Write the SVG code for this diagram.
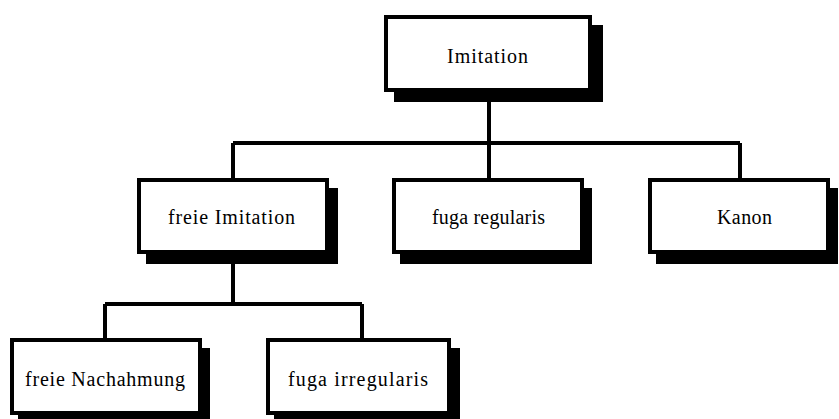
<svg xmlns="http://www.w3.org/2000/svg" width="839" height="419" viewBox="0 0 839 419">
<style>
.box{fill:#fff;stroke:#000;stroke-width:4}
.sh{fill:#000}
.lbl{font-family:"Liberation Serif","Times New Roman",serif;font-size:20px;fill:#000}
.con{fill:none;stroke:#000;stroke-width:4}
</style>
<rect x="0" y="0" width="839" height="419" fill="#fff"/>
<g id="connectors">
<path class="con" d="M489 92 V143 M233 143 H740 M233 143 V178 M489 143 V178 M740 143 V178"/>
<path class="con" d="M233 254 V304 M105 304 H362 M105 304 V338 M362 304 V338"/>
</g>
<g id="n-imitation">
<rect class="sh" x="394" y="25" width="209" height="77"/>
<rect class="box" x="386" y="17" width="204" height="73"/>
<text class="lbl" x="447" y="63" textLength="81" lengthAdjust="spacing">Imitation</text>
</g>
<g id="n-freie-imitation">
<rect class="sh" x="146" y="188" width="192" height="76"/>
<rect class="box" x="139" y="180" width="188" height="72"/>
<text class="lbl" x="168" y="224" textLength="127" lengthAdjust="spacing">freie Imitation</text>
</g>
<g id="n-fuga-regularis">
<rect class="sh" x="400" y="188" width="192" height="76"/>
<rect class="box" x="394" y="180" width="188" height="72"/>
<text class="lbl" x="432" y="224" textLength="113" lengthAdjust="spacing">fuga regularis</text>
</g>
<g id="n-kanon">
<rect class="sh" x="656" y="188" width="182" height="76"/>
<rect class="box" x="650" y="180" width="178" height="72"/>
<text class="lbl" x="717" y="224" textLength="55" lengthAdjust="spacing">Kanon</text>
</g>
<g id="n-freie-nachahmung">
<rect class="sh" x="18" y="348" width="192" height="76"/>
<rect class="box" x="12" y="340" width="188" height="73"/>
<text class="lbl" x="25" y="386" textLength="160" lengthAdjust="spacing">freie Nachahmung</text>
</g>
<g id="n-fuga-irregularis">
<rect class="sh" x="274" y="348" width="186" height="76"/>
<rect class="box" x="268" y="340" width="181" height="73"/>
<text class="lbl" x="288" y="386" textLength="140" lengthAdjust="spacing">fuga irregularis</text>
</g>
</svg>
